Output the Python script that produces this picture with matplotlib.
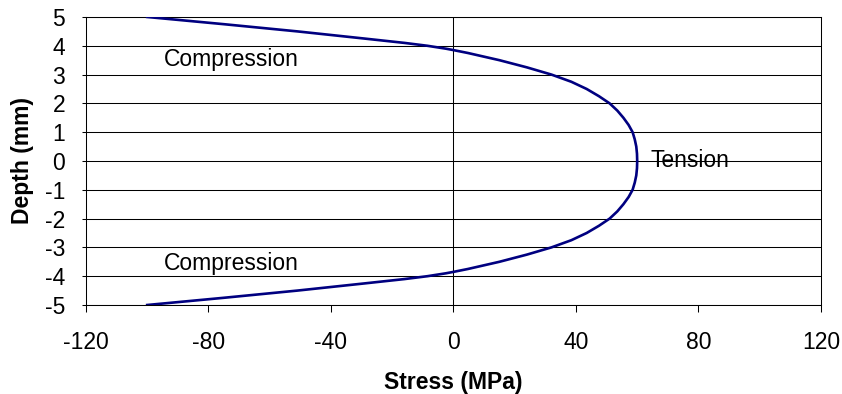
import matplotlib
matplotlib.use("Agg")
import matplotlib.pyplot as plt

plt.rcParams['font.family'] = ['Liberation Sans', 'DejaVu Sans']
plt.rcParams['axes.unicode_minus'] = False

# depth (mm) and stress (MPa)
depth = [5, 4.75, 4.5, 4.25, 4.1, 4, 3.9, 3.85, 3.75, 3.5, 3.25, 3, 2.75,
         2.5, 2.25, 2, 1.75, 1.5, 1.25, 1, 0.75, 0.5, 0.25, 0,
         -0.25, -0.5, -0.75, -1, -1.25, -1.5, -1.75, -2, -2.25, -2.5, -2.75,
         -3, -3.25, -3.5, -3.75, -3.85, -3.9, -4, -4.1, -4.25, -4.5,
         -4.75, -5]
stress = [-100, -75, -51, -29, -16, -8.5, -2.5, 0, 4.7, 15, 24, 32,
          38.5, 43.5, 47.5, 51, 53.5, 55.5, 57.2, 58.5, 59.2, 59.7, 59.93, 60,
          59.93, 59.7, 59.2, 58.5, 57.2, 55.5, 53.5, 51, 47.5, 43.5, 38.5,
          32, 24, 15, 4.7, 0, -2.5, -8.5, -16, -29, -51,
          -75, -100]

xticks = [-120, -80, -40, 0, 40, 80, 120]
yticks = [5, 4, 3, 2, 1, 0, -1, -2, -3, -4, -5]

fig = plt.figure(figsize=(8.42, 3.94), dpi=100)
ax = fig.add_axes([0.1021, 0.2259, 0.8729, 0.731])

for y in yticks:
    ax.axhline(y, color='black', lw=0.75, zorder=1)
ax.axvline(0, color='black', lw=0.75, zorder=1)

ax.plot(stress, depth, color='#000080', lw=1.9, zorder=3)

ax.set_xlim(-120, 120)
ax.set_ylim(-5, 5)
ax.set_xticks(xticks)
ax.set_yticks(yticks)
ax.tick_params(axis='x', direction='out', length=5, width=0.75, pad=14, labelsize=16.5)
ax.tick_params(axis='y', direction='out', length=3, width=0.75, pad=12, labelsize=16.5)
for s in ax.spines.values():
    s.set_linewidth(0.75)

ax.set_xlabel('Stress (MPa)', fontsize=16.5, fontweight='bold', labelpad=12)
ax.set_ylabel('Depth (mm)', fontsize=16.5, fontweight='bold', labelpad=8)

ax.text(-94.5, 3.3, 'Compression', fontsize=16.5, va='baseline', ha='left')
ax.text(-94.5, -3.8, 'Compression', fontsize=16.5, va='baseline', ha='left')
ax.text(64.2, -0.2, 'Tension', fontsize=16.5, va='baseline', ha='left')

fig.savefig('out.png', dpi=100)
